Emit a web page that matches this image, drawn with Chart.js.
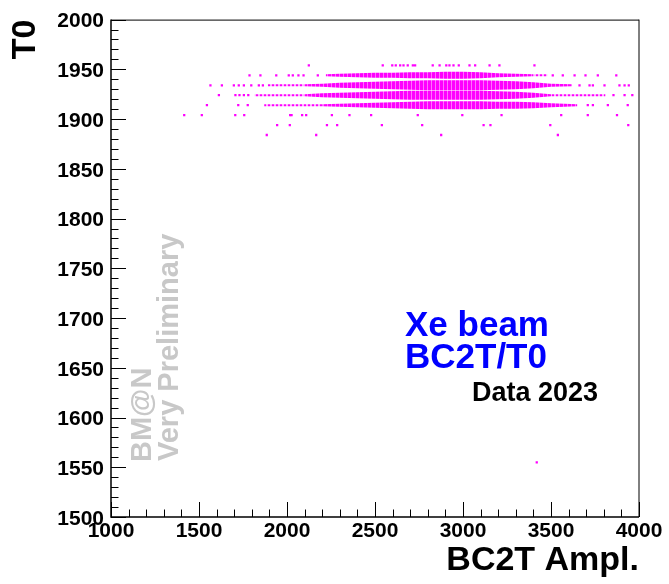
<!DOCTYPE html>
<html>
<head>
<meta charset="utf-8">
<script src="https://cdn.jsdelivr.net/npm/chart.js@4.4.1/dist/chart.umd.min.js"></script>
<style>
  html, body { margin: 0; padding: 0; background: #ffffff; }
  #wrap { width: 669px; height: 584px; }
  canvas { display: block; }
</style>
</head>
<body>
<div id="wrap"><canvas id="c" width="669" height="584"></canvas></div>
<script>
// T0 rows in which the BC2T entries are recorded
const rowT0 = [1954, 1944, 1934, 1924, 1914, 1904, 1894, 1884];

// isolated entries (BC2T amplitude) in each T0 row
const sparse1954 = [2124, 2544, 2598, 2618, 2643, 2662, 2686, 2715, 2728, 2828, 2867, 2905, 2923, 2946, 2976, 3037, 3069, 3151, 3207, 3406];
const sparse1944 = [1787, 1849, 1939, 2010, 2033, 2065, 2094, 2175, 3510, 3567, 3634, 3696, 3766, 3871];
const sparse1934 = [1565, 1630, 1698, 1726, 1755, 1797, 1840, 1863, 3662, 3719, 3738, 3804, 3889, 3918, 3942];
const sparse1924 = [1613, 1707, 1730, 1755, 1780, 3855, 3918, 3962];
const sparse1914 = [1545, 1723, 1777, 3709, 3738, 3823, 3936];
const sparse1904 = [1416, 1516, 1706, 1757, 2018, 2026, 2086, 2109, 2255, 2355, 2478, 2743, 2996, 3219, 3558, 3709, 3875];
const sparse1894 = [1944, 2016, 2227, 2285, 2539, 2768, 3117, 3156, 3496, 3939];
const sparse1884 = [1885, 2166, 2876, 3539];

// single entry far below the main population
const outlierAmpl = [3419];
const outlierT0 = [1555];

// densely populated stretches: amplitude samples and spread of the band in T0
const band1944Ampl = [2220, 2300, 2400, 2500, 2600, 2700, 2800, 2900, 3000, 3100, 3200, 3300, 3400, 3480];
const band1944Spread = [2, 3, 4, 5, 5, 6, 6, 7, 7, 6, 4, 3, 2, 2];
const band1934Ampl = [1890, 2000, 2100, 2200, 2300, 2400, 2500, 2600, 2700, 2800, 2900, 3000, 3100, 3200, 3300, 3400, 3500, 3620];
const band1934Spread = [2, 2, 2, 3, 5, 6, 7, 8, 9, 10, 10, 10, 10, 9, 8, 6, 3, 2];
const band1924Ampl = [1815, 1900, 2000, 2100, 2200, 2300, 2400, 2500, 2600, 2700, 2800, 2900, 3000, 3100, 3200, 3300, 3400, 3500, 3600, 3700, 3810];
const band1924Spread = [2, 2, 2, 2, 4, 5, 6, 7, 8, 9, 9, 9, 9, 9, 8, 7, 5, 2, 2, 2, 2];
const band1914Ampl = [1870, 2000, 2100, 2200, 2300, 2400, 2500, 2600, 2700, 2800, 2900, 3000, 3100, 3200, 3300, 3400, 3500, 3650];
const band1914Spread = [2, 2, 2, 2, 3, 4, 5, 6, 7, 8, 8, 8, 8, 7, 7, 6, 4, 2];

// axis tick labels
const xTickLabels = ['1000', '1500', '2000', '2500', '3000', '3500', '4000'];
const yTickLabels = ['1500', '1550', '1600', '1650', '1700', '1750', '1800', '1850', '1900', '1950', '2000'];

const MAGENTA = '#ff00ff';
const FONT = "'Liberation Sans', Arial, Helvetica, sans-serif";
Chart.defaults.font.family = FONT;

// striped fills: solid-ish for the dense core, dotted for the thin tails
function stripePattern(on, period, gapColor) {
  const c = document.createElement('canvas');
  c.width = period; c.height = 4;
  const g = c.getContext('2d');
  g.fillStyle = gapColor; g.fillRect(0, 0, period, 4);
  g.fillStyle = MAGENTA; g.fillRect(0, 0, on, 4);
  return g.createPattern(c, 'repeat');
}
const coreFill = stripePattern(3, 4, '#ff70ff');
const tailFill = stripePattern(2, 4, '#ffb0ff');
const THIN = 2;

const sparseRows = [sparse1954, sparse1944, sparse1934, sparse1924, sparse1914, sparse1904, sparse1894, sparse1884];
const points = [];
sparseRows.forEach((row, i) => row.forEach(a => points.push({ x: a, y: rowT0[i] })));
outlierAmpl.forEach((a, i) => points.push({ x: a, y: outlierT0[i] }));

const bands = [
  { t0: rowT0[1], ampl: band1944Ampl, spread: band1944Spread },
  { t0: rowT0[2], ampl: band1934Ampl, spread: band1934Spread },
  { t0: rowT0[3], ampl: band1924Ampl, spread: band1924Spread },
  { t0: rowT0[4], ampl: band1914Ampl, spread: band1914Spread }
];

const datasets = [{
  label: 'entries',
  data: points,
  showLine: false,
  pointStyle: 'rect',
  pointRadius: 1.6,
  pointHoverRadius: 1.6,
  pointBackgroundColor: MAGENTA,
  pointBorderWidth: 0,
  borderColor: 'rgba(0,0,0,0)',
  borderWidth: 0,
  fill: false
}];

// each band is split into runs of thin (tail) and thick (core) intervals
function addBandRun(b, from, to, fillStyle) {
  const idx = [];
  for (let k = from; k <= to; k++) idx.push(k);
  datasets.push({
    data: idx.map(k => ({ x: b.ampl[k], y: b.t0 + b.spread[k] / 2 })),
    borderWidth: 0, borderColor: 'rgba(0,0,0,0)', pointRadius: 0, tension: 0, fill: false
  });
  datasets.push({
    data: idx.map(k => ({ x: b.ampl[k], y: b.t0 - b.spread[k] / 2 })),
    borderWidth: 0, borderColor: 'rgba(0,0,0,0)', pointRadius: 0, tension: 0,
    fill: '-1', backgroundColor: fillStyle
  });
}
bands.forEach(b => {
  const n = b.ampl.length;
  const isThin = k => b.spread[k] <= THIN && b.spread[k + 1] <= THIN;
  let start = 0;
  for (let k = 1; k < n - 1; k++) {
    if (isThin(k) !== isThin(start)) {
      addBandRun(b, start, k, isThin(start) ? tailFill : coreFill);
      start = k;
    }
  }
  addBandRun(b, start, n - 1, isThin(start) ? tailFill : coreFill);
});

const xTickValues = xTickLabels.map(Number);
const yTickValues = yTickLabels.map(Number);

// frame and inward-pointing tick marks
const frameTicks = {
  id: 'frameTicks',
  afterDatasetsDraw(chart) {
    const { ctx, chartArea: a, scales: { x, y } } = chart;
    ctx.save();
    ctx.strokeStyle = '#000';
    ctx.lineWidth = 1;
    ctx.beginPath();
    for (let i = 0; i < xTickValues.length; i++) {
      const v = xTickValues[i];
      const px = Math.round(x.getPixelForValue(v)) + 0.5;
      ctx.moveTo(px, a.bottom); ctx.lineTo(px, a.bottom - 15);
      if (i < xTickValues.length - 1) {
        const step = (xTickValues[i + 1] - v) / 5;
        for (let k = 1; k < 5; k++) {
          const q = Math.round(x.getPixelForValue(v + k * step)) + 0.5;
          ctx.moveTo(q, a.bottom); ctx.lineTo(q, a.bottom - 7.5);
        }
      }
    }
    for (let i = 0; i < yTickValues.length; i++) {
      const v = yTickValues[i];
      const py = Math.round(y.getPixelForValue(v)) + 0.5;
      ctx.moveTo(a.left, py); ctx.lineTo(a.left + 15, py);
      if (i < yTickValues.length - 1) {
        const step = (yTickValues[i + 1] - v) / 5;
        for (let k = 1; k < 5; k++) {
          const q = Math.round(y.getPixelForValue(v + k * step)) + 0.5;
          ctx.moveTo(a.left, q); ctx.lineTo(a.left + 7.5, q);
        }
      }
    }
    ctx.stroke();
    // axes lines
    ctx.lineWidth = 1.5;
    ctx.beginPath();
    ctx.moveTo(a.left, a.top); ctx.lineTo(a.left, a.bottom); ctx.lineTo(a.right, a.bottom);
    ctx.stroke();
    ctx.lineWidth = 1;
    ctx.beginPath();
    ctx.moveTo(a.left, a.top + 0.5); ctx.lineTo(a.right, a.top + 0.5);
    ctx.moveTo(a.right, a.top); ctx.lineTo(a.right, a.bottom);
    ctx.stroke();
    ctx.restore();
  },
  afterDraw(chart) {
    const ctx = chart.ctx;
    ctx.save();
    // vertical watermark
    ctx.fillStyle = '#c8c8c8';
    ctx.font = 'bold 29px ' + FONT;
    ctx.textAlign = 'left';
    ctx.textBaseline = 'alphabetic';
    ctx.save(); ctx.translate(151, 462); ctx.rotate(-Math.PI / 2); ctx.fillText('BM@N', 0, 0); ctx.restore();
    ctx.save(); ctx.translate(178, 461); ctx.rotate(-Math.PI / 2); ctx.fillText('Very Preliminary', 0, 0); ctx.restore();
    // labels inside the plot
    ctx.fillStyle = '#0000ff';
    ctx.font = 'bold 35px ' + FONT;
    ctx.fillText('Xe beam', 405, 336);
    ctx.fillText('BC2T/T0', 405, 368);
    ctx.fillStyle = '#000000';
    ctx.font = 'bold 27px ' + FONT;
    ctx.fillText('Data 2023', 472, 401);
    ctx.restore();
  }
};

new Chart(document.getElementById('c'), {
  type: 'line',
  data: { datasets },
  options: {
    responsive: false,
    animation: false,
    devicePixelRatio: 1,
    layout: { padding: { left: 0, right: 30, top: 17, bottom: 0 } },
    plugins: { legend: { display: false }, tooltip: { enabled: false } },
    elements: { line: { tension: 0 } },
    scales: {
      x: {
        type: 'linear', min: 1000, max: 4000,
        afterBuildTicks: s => { s.ticks = xTickValues.map(v => ({ value: v })); },
        afterFit: s => { s.height = 67; },
        grid: { display: false, drawTicks: false },
        border: { display: false },
        ticks: {
          autoSkip: false, maxRotation: 0, padding: 2, color: '#000',
          font: { size: 21, weight: 'bold' },
          callback: (v) => xTickLabels[xTickValues.indexOf(v)]
        },
        title: {
          display: true, text: 'BC2T Ampl.', align: 'end', color: '#000',
          font: { size: 34, weight: 'bold' }, padding: { top: 0, bottom: 3 }
        }
      },
      y: {
        type: 'linear', min: 1500, max: 2000,
        afterBuildTicks: s => { s.ticks = yTickValues.map(v => ({ value: v })); },
        afterFit: s => { s.width = 111; },
        grid: { display: false, drawTicks: false },
        border: { display: false },
        ticks: {
          autoSkip: false, padding: 7, labelOffset: 2, color: '#000',
          font: { size: 21, weight: 'bold' },
          callback: (v) => yTickLabels[yTickValues.indexOf(v)]
        },
        title: {
          display: true, text: 'T0', align: 'end', color: '#000',
          font: { size: 34, weight: 'bold' }, padding: { top: 5, bottom: 0 }
        }
      }
    }
  },
  plugins: [frameTicks]
});
</script>
</body>
</html>
